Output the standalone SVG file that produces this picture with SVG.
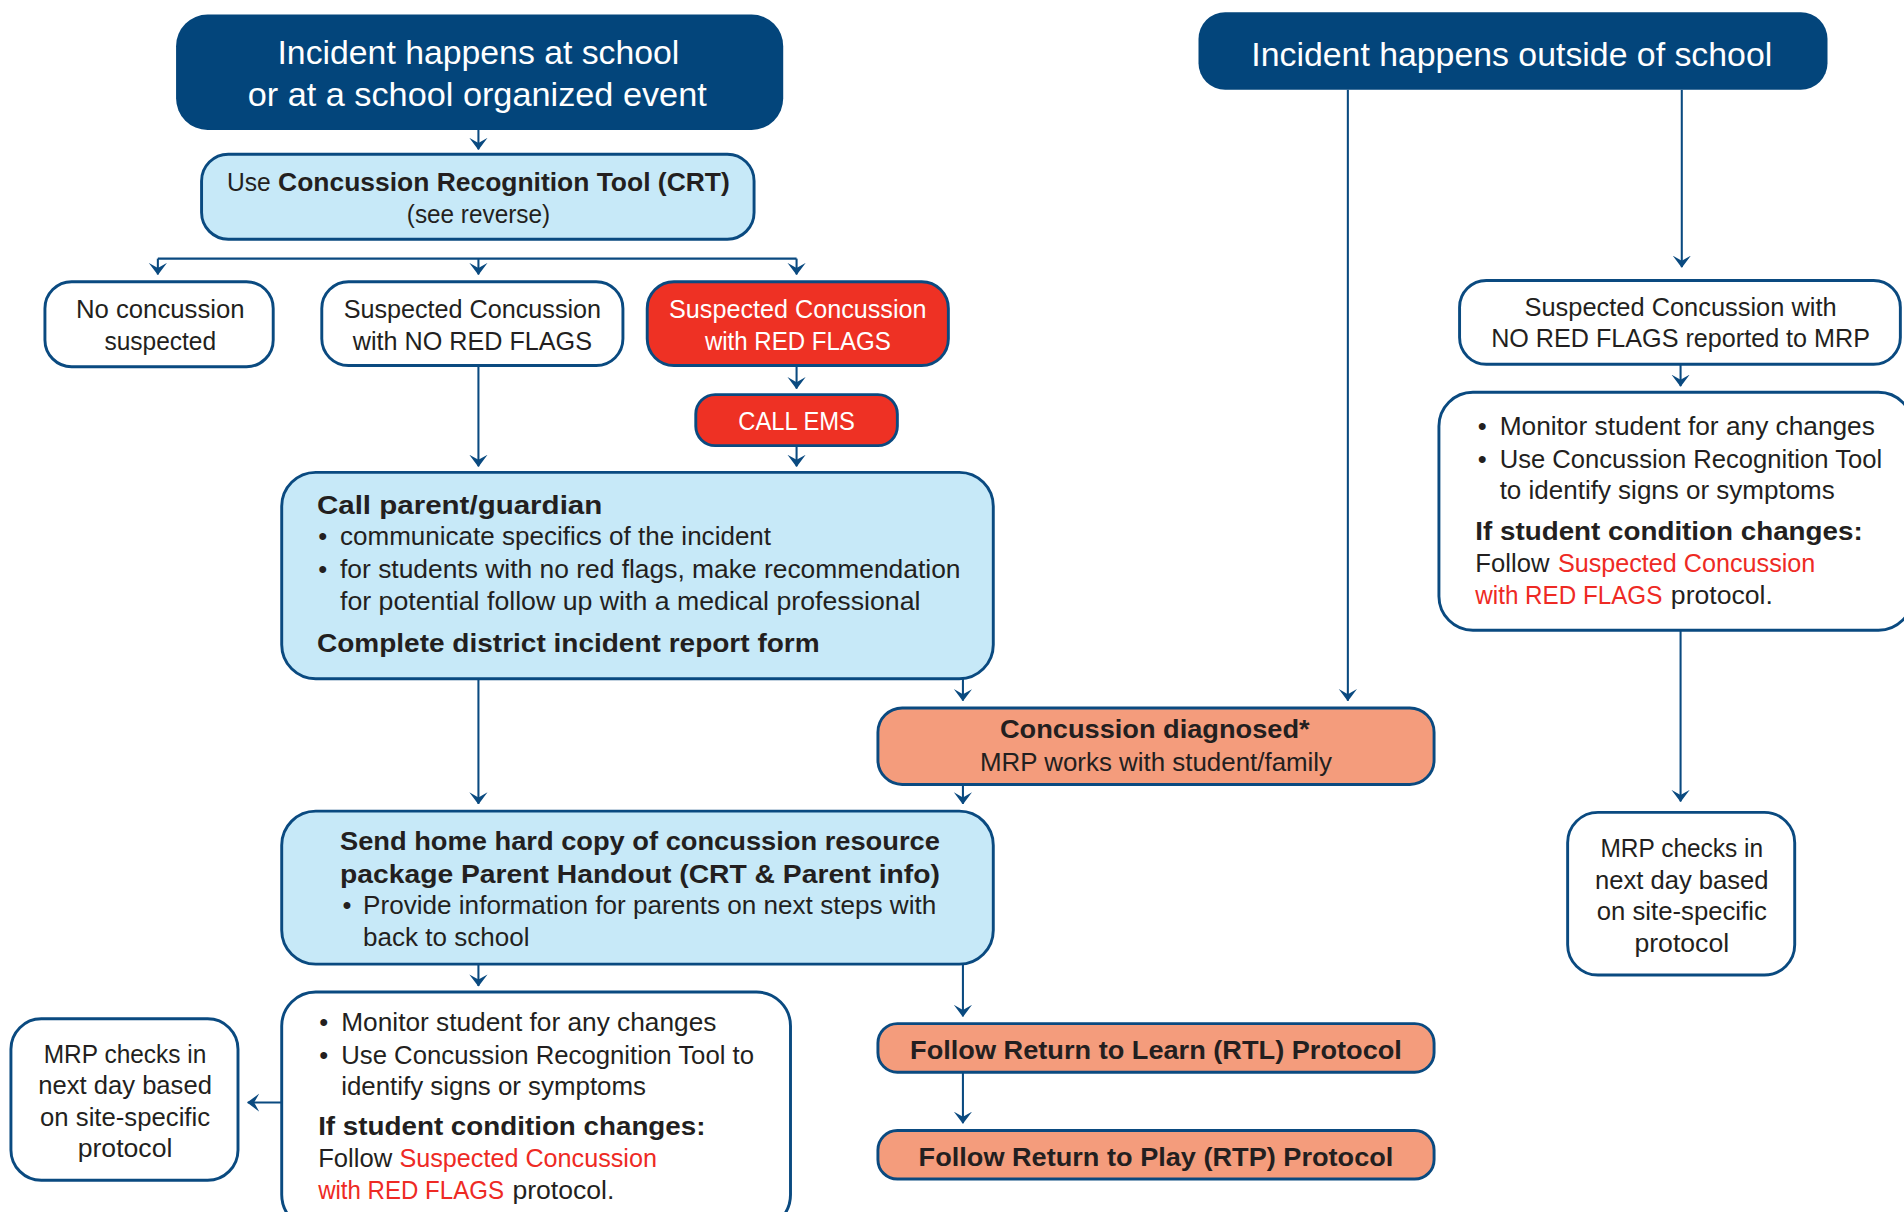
<svg xmlns="http://www.w3.org/2000/svg" width="1904" height="1212" viewBox="0 0 1904 1212">
<defs>
<marker id="arr" viewBox="0 0 10 15.6" refX="9.5" refY="7.8" markerWidth="10" markerHeight="15.6" markerUnits="userSpaceOnUse" orient="auto">
<path d="M10,7.8 L0,0.3 L4.2,7.8 L0,15.3 Z" fill="#0A4A80"/>
</marker>
<style>
.t{font-family:"Liberation Sans",Arial,sans-serif;fill:#231F20;}
.r{font-size:21px;}
.b{font-size:21px;font-weight:bold;}
.w{fill:#FFFFFF;}
.red{fill:#EE2A24;}
.m{text-anchor:middle;}
.navy{fill:#03457B;}
.lb{fill:#C7E9F8;stroke:#0A4A80;stroke-width:2.4;}
.wb{fill:#FFFFFF;stroke:#0A4A80;stroke-width:2.4;}
.rb{fill:#EE3124;stroke:#0A4A80;stroke-width:2.4;}
.sb{fill:#F49C7C;stroke:#0A4A80;stroke-width:2.4;}
.c{fill:none;stroke:#0A4A80;stroke-width:1.7;}
</style>
</defs>
<rect width="1904" height="1212" fill="#FFFFFF"/>
<g transform="scale(1.214286)">
<g id="connectors">
<path class="c" d="M394,107 V123" marker-end="url(#arr)"/>
<path class="c" d="M130,213 H656"/>
<path class="c" d="M130,213 V226" marker-end="url(#arr)"/>
<path class="c" d="M394,213 V226" marker-end="url(#arr)"/>
<path class="c" d="M656,213 V226" marker-end="url(#arr)"/>
<path class="c" d="M656,302 V320" marker-end="url(#arr)"/>
<path class="c" d="M656,367 V384" marker-end="url(#arr)"/>
<path class="c" d="M394,301 V384" marker-end="url(#arr)"/>
<path class="c" d="M1110,74 V577" marker-end="url(#arr)"/>
<path class="c" d="M1385,74 V220" marker-end="url(#arr)"/>
<path class="c" d="M1384,300 V318" marker-end="url(#arr)"/>
<path class="c" d="M1384,519 V660" marker-end="url(#arr)"/>
<path class="c" d="M793,559 V577" marker-end="url(#arr)"/>
<path class="c" d="M394,559 V662" marker-end="url(#arr)"/>
<path class="c" d="M793,646 V662" marker-end="url(#arr)"/>
<path class="c" d="M394,794 V812" marker-end="url(#arr)"/>
<path class="c" d="M793,794 V837" marker-end="url(#arr)"/>
<path class="c" d="M793,883 V925" marker-end="url(#arr)"/>
<path class="c" d="M232,908 H204" marker-end="url(#arr)"/>
</g>

<g id="incident-school">
<rect x="145" y="12" width="500" height="95" rx="26" class="navy"/>
<text class="t w m" x="394" y="53" font-size="28" textLength="331" lengthAdjust="spacingAndGlyphs">Incident happens at school</text>
<text class="t w m" x="393" y="87" font-size="28" textLength="378" lengthAdjust="spacingAndGlyphs">or at a school organized event</text>
</g>

<g id="incident-outside">
<rect x="987" y="10" width="518" height="64" rx="22" class="navy"/>
<text class="t w m" x="1245" y="54" font-size="28" textLength="429" lengthAdjust="spacingAndGlyphs">Incident happens outside of school</text>
</g>

<g id="crt">
<rect x="166" y="127" width="455" height="70" rx="22" class="lb"/>
<text class="t r" x="187" y="157" textLength="36" lengthAdjust="spacingAndGlyphs">Use</text>
<text class="t b" x="229" y="157" textLength="372" lengthAdjust="spacingAndGlyphs">Concussion Recognition Tool (CRT)</text>
<text class="t r m" x="394" y="184" textLength="118" lengthAdjust="spacingAndGlyphs">(see reverse)</text>
</g>

<g id="no-concussion">
<rect x="37" y="232" width="188" height="70" rx="22" class="wb"/>
<text class="t r m" x="132" y="262" textLength="139" lengthAdjust="spacingAndGlyphs">No concussion</text>
<text class="t r m" x="132" y="288" textLength="92" lengthAdjust="spacingAndGlyphs">suspected</text>
</g>

<g id="no-red-flags">
<rect x="265" y="232" width="248" height="69" rx="22" class="wb"/>
<text class="t r m" x="389" y="262" textLength="212" lengthAdjust="spacingAndGlyphs">Suspected Concussion</text>
<text class="t r m" x="389" y="288" textLength="197" lengthAdjust="spacingAndGlyphs">with NO RED FLAGS</text>
</g>

<g id="red-flags">
<rect x="533" y="232" width="248" height="69" rx="22" class="rb"/>
<text class="t r w m" x="657" y="262" textLength="212" lengthAdjust="spacingAndGlyphs">Suspected Concussion</text>
<text class="t r w m" x="657" y="288" textLength="153" lengthAdjust="spacingAndGlyphs">with RED FLAGS</text>
</g>

<g id="call-ems">
<rect x="573" y="325" width="166" height="42" rx="16" class="rb"/>
<text class="t r w m" x="656" y="354" textLength="96" lengthAdjust="spacingAndGlyphs">CALL EMS</text>
</g>

<g id="call-parent">
<rect x="232" y="389" width="586" height="170" rx="28" class="lb"/>
<text class="t b" x="261" y="423" textLength="235" lengthAdjust="spacingAndGlyphs">Call parent/guardian</text>
<text class="t r" x="262" y="449">•</text>
<text class="t r" x="280" y="449" textLength="355" lengthAdjust="spacingAndGlyphs">communicate specifics of the incident</text>
<text class="t r" x="262" y="476">•</text>
<text class="t r" x="280" y="476" textLength="511" lengthAdjust="spacingAndGlyphs">for students with no red flags, make recommendation</text>
<text class="t r" x="280" y="502" textLength="478" lengthAdjust="spacingAndGlyphs">for potential follow up with a medical professional</text>
<text class="t b" x="261" y="537" textLength="414" lengthAdjust="spacingAndGlyphs">Complete district incident report form</text>
</g>

<g id="concussion-diagnosed">
<rect x="723" y="583" width="458" height="63" rx="20" class="sb"/>
<text class="t b m" x="951" y="608" textLength="255" lengthAdjust="spacingAndGlyphs">Concussion diagnosed*</text>
<text class="t r m" x="952" y="635" textLength="290" lengthAdjust="spacingAndGlyphs">MRP works with student/family</text>
</g>

<g id="send-home">
<rect x="232" y="668" width="586" height="126" rx="28" class="lb"/>
<text class="t b" x="280" y="700" textLength="494" lengthAdjust="spacingAndGlyphs">Send home hard copy of concussion resource</text>
<text class="t b" x="280" y="727" textLength="494" lengthAdjust="spacingAndGlyphs">package Parent Handout (CRT &amp; Parent info)</text>
<text class="t r" x="282" y="753">•</text>
<text class="t r" x="299" y="753" textLength="472" lengthAdjust="spacingAndGlyphs">Provide information for parents on next steps with</text>
<text class="t r" x="299" y="779" textLength="137" lengthAdjust="spacingAndGlyphs">back to school</text>
</g>

<g id="monitor-left">
<rect x="232" y="817" width="419" height="195" rx="28" class="wb"/>
<text class="t r" x="263" y="849">•</text>
<text class="t r" x="281" y="849" textLength="309" lengthAdjust="spacingAndGlyphs">Monitor student for any changes</text>
<text class="t r" x="263" y="876">•</text>
<text class="t r" x="281" y="876" textLength="340" lengthAdjust="spacingAndGlyphs">Use Concussion Recognition Tool to</text>
<text class="t r" x="281" y="902" textLength="251" lengthAdjust="spacingAndGlyphs">identify signs or symptoms</text>
<text class="t b" x="262" y="935" textLength="319" lengthAdjust="spacingAndGlyphs">If student condition changes:</text>
<text class="t r" x="262" y="961" textLength="61" lengthAdjust="spacingAndGlyphs">Follow</text>
<text class="t r red" x="329" y="961" textLength="212" lengthAdjust="spacingAndGlyphs">Suspected Concussion</text>
<text class="t r red" x="262" y="987" textLength="153" lengthAdjust="spacingAndGlyphs">with RED FLAGS</text>
<text class="t r" x="422" y="987" textLength="84" lengthAdjust="spacingAndGlyphs">protocol.</text>
</g>

<g id="mrp-left">
<rect x="9" y="839" width="187" height="133" rx="25" class="wb"/>
<text class="t r m" x="103" y="875" textLength="134" lengthAdjust="spacingAndGlyphs">MRP checks in</text>
<text class="t r m" x="103" y="901" textLength="143" lengthAdjust="spacingAndGlyphs">next day based</text>
<text class="t r m" x="103" y="927" textLength="140" lengthAdjust="spacingAndGlyphs">on site-specific</text>
<text class="t r m" x="103" y="953" textLength="78" lengthAdjust="spacingAndGlyphs">protocol</text>
</g>

<g id="rtl">
<rect x="723" y="843" width="458" height="40" rx="16" class="sb"/>
<text class="t b m" x="952" y="872" textLength="405" lengthAdjust="spacingAndGlyphs">Follow Return to Learn (RTL) Protocol</text>
</g>

<g id="rtp">
<rect x="723" y="931" width="458" height="40" rx="16" class="sb"/>
<text class="t b m" x="952" y="960" textLength="391" lengthAdjust="spacingAndGlyphs">Follow Return to Play (RTP) Protocol</text>
</g>

<g id="no-red-flags-mrp">
<rect x="1202" y="231" width="363" height="69" rx="22" class="wb"/>
<text class="t r m" x="1384" y="260" textLength="257" lengthAdjust="spacingAndGlyphs">Suspected Concussion with</text>
<text class="t r m" x="1384" y="286" textLength="312" lengthAdjust="spacingAndGlyphs">NO RED FLAGS reported to MRP</text>
</g>

<g id="monitor-right">
<rect x="1185" y="323" width="390" height="196" rx="28" class="wb"/>
<text class="t r" x="1217" y="358">•</text>
<text class="t r" x="1235" y="358" textLength="309" lengthAdjust="spacingAndGlyphs">Monitor student for any changes</text>
<text class="t r" x="1217" y="385">•</text>
<text class="t r" x="1235" y="385" textLength="315" lengthAdjust="spacingAndGlyphs">Use Concussion Recognition Tool</text>
<text class="t r" x="1235" y="411" textLength="276" lengthAdjust="spacingAndGlyphs">to identify signs or symptoms</text>
<text class="t b" x="1215" y="445" textLength="319" lengthAdjust="spacingAndGlyphs">If student condition changes:</text>
<text class="t r" x="1215" y="471" textLength="61" lengthAdjust="spacingAndGlyphs">Follow</text>
<text class="t r red" x="1283" y="471" textLength="212" lengthAdjust="spacingAndGlyphs">Suspected Concussion</text>
<text class="t r red" x="1215" y="497" textLength="154" lengthAdjust="spacingAndGlyphs">with RED FLAGS</text>
<text class="t r" x="1376" y="497" textLength="84" lengthAdjust="spacingAndGlyphs">protocol.</text>
</g>

<g id="mrp-right">
<rect x="1291" y="669" width="187" height="134" rx="25" class="wb"/>
<text class="t r m" x="1385" y="706" textLength="134" lengthAdjust="spacingAndGlyphs">MRP checks in</text>
<text class="t r m" x="1385" y="732" textLength="143" lengthAdjust="spacingAndGlyphs">next day based</text>
<text class="t r m" x="1385" y="758" textLength="140" lengthAdjust="spacingAndGlyphs">on site-specific</text>
<text class="t r m" x="1385" y="784" textLength="78" lengthAdjust="spacingAndGlyphs">protocol</text>
</g>
</g>
</svg>
